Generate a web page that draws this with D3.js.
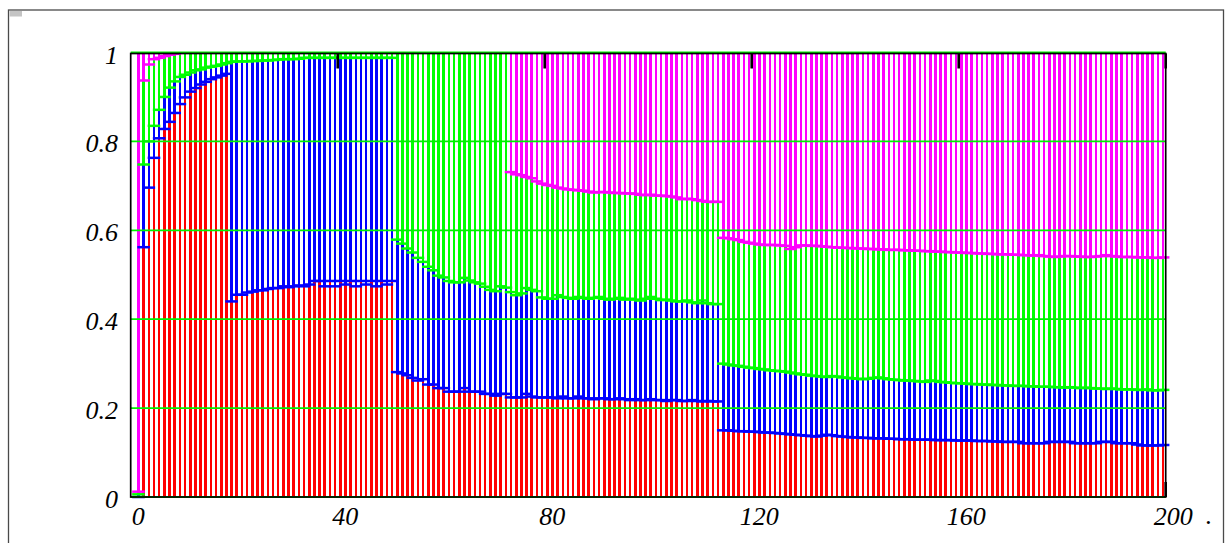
<!DOCTYPE html>
<html>
<head>
<meta charset="utf-8">
<script src="https://cdn.jsdelivr.net/npm/d3@7"></script>
<style>
  html, body { margin: 0; padding: 0; background: #ffffff; }
  svg { display: block; }
  .tick-label { font-family: "Liberation Serif", "Times New Roman", serif; font-style: italic; font-size: 26px; fill: #000; }
</style>
</head>
<body>
<svg id="chart" width="1227" height="543"></svg>
<script>
// Cumulative share levels per step: red band tops, blue band tops, green band tops.
// Magenta fills the rest up to 1.
const redLevel = [
  0, 0.562, 0.696, 0.763, 0.807, 0.828, 0.844, 0.864, 0.884, 0.899,
  0.912, 0.920, 0.928, 0.934, 0.940, 0.944, 0.948, 0.952, 0.440, 0.455,
  0.455, 0.460, 0.462, 0.465, 0.465, 0.468, 0.470, 0.470, 0.474, 0.472,
  0.474, 0.476, 0.474, 0.478, 0.486, 0.486, 0.474, 0.486, 0.474, 0.486,
  0.478, 0.486, 0.474, 0.486, 0.478, 0.486, 0.474, 0.486, 0.478, 0.486,
  0.281, 0.278, 0.274, 0.268, 0.262, 0.265, 0.253, 0.253, 0.245, 0.245,
  0.237, 0.237, 0.237, 0.245, 0.237, 0.237, 0.237, 0.232, 0.232, 0.228,
  0.232, 0.232, 0.224, 0.224, 0.224, 0.232, 0.226, 0.224, 0.224, 0.224,
  0.224, 0.222, 0.226, 0.222, 0.222, 0.226, 0.222, 0.222, 0.220, 0.222,
  0.222, 0.220, 0.220, 0.222, 0.220, 0.218, 0.220, 0.218, 0.218, 0.220,
  0.218, 0.218, 0.216, 0.218, 0.218, 0.216, 0.216, 0.218, 0.216, 0.215,
  0.216, 0.215, 0.215, 0.150, 0.150, 0.149, 0.148, 0.148, 0.147, 0.147,
  0.146, 0.145, 0.145, 0.144, 0.143, 0.142, 0.141, 0.140, 0.139, 0.138,
  0.137, 0.136, 0.138, 0.140, 0.139, 0.137, 0.136, 0.135, 0.134, 0.134,
  0.133, 0.133, 0.132, 0.132, 0.132, 0.131, 0.131, 0.130, 0.130, 0.130,
  0.129, 0.129, 0.129, 0.129, 0.128, 0.128, 0.128, 0.128, 0.127, 0.127,
  0.127, 0.127, 0.126, 0.126, 0.126, 0.125, 0.125, 0.124, 0.124, 0.124,
  0.124, 0.121, 0.121, 0.121, 0.121, 0.121, 0.124, 0.124, 0.124, 0.124,
  0.124, 0.121, 0.121, 0.121, 0.121, 0.121, 0.124, 0.124, 0.124, 0.121,
  0.121, 0.121, 0.121, 0.118, 0.116, 0.116, 0.116, 0.116, 0.117
];

const blueLevel = [
  0.006, 0.748, 0.800, 0.835, 0.871, 0.900, 0.921, 0.935, 0.945, 0.950,
  0.955, 0.960, 0.962, 0.966, 0.968, 0.970, 0.973, 0.976, 0.979, 0.980,
  0.980, 0.980, 0.981, 0.981, 0.982, 0.982, 0.983, 0.984, 0.985, 0.985,
  0.985, 0.986, 0.988, 0.988, 0.988, 0.988, 0.988, 0.988, 0.988, 0.988,
  0.988, 0.988, 0.988, 0.988, 0.988, 0.988, 0.988, 0.988, 0.988, 0.988,
  0.579, 0.570, 0.559, 0.550, 0.538, 0.529, 0.518, 0.510, 0.498, 0.494,
  0.486, 0.483, 0.483, 0.493, 0.487, 0.483, 0.480, 0.473, 0.466, 0.463,
  0.474, 0.471, 0.461, 0.454, 0.458, 0.470, 0.466, 0.463, 0.449, 0.446,
  0.446, 0.454, 0.450, 0.448, 0.446, 0.450, 0.448, 0.446, 0.448, 0.450,
  0.446, 0.444, 0.446, 0.448, 0.444, 0.446, 0.444, 0.442, 0.446, 0.450,
  0.446, 0.443, 0.444, 0.442, 0.440, 0.440, 0.442, 0.438, 0.436, 0.442,
  0.436, 0.434, 0.434, 0.300, 0.298, 0.296, 0.295, 0.293, 0.291, 0.290,
  0.288, 0.287, 0.285, 0.284, 0.283, 0.282, 0.280, 0.278, 0.276, 0.275,
  0.273, 0.272, 0.271, 0.270, 0.272, 0.271, 0.269, 0.268, 0.267, 0.266,
  0.265, 0.266, 0.268, 0.269, 0.267, 0.265, 0.264, 0.263, 0.262, 0.262,
  0.261, 0.260, 0.259, 0.262, 0.261, 0.259, 0.258, 0.257, 0.256, 0.256,
  0.255, 0.254, 0.254, 0.253, 0.253, 0.252, 0.252, 0.251, 0.251, 0.250,
  0.250, 0.250, 0.249, 0.249, 0.248, 0.248, 0.248, 0.247, 0.247, 0.246,
  0.247, 0.246, 0.245, 0.246, 0.245, 0.244, 0.244, 0.243, 0.244, 0.243,
  0.242, 0.242, 0.242, 0.241, 0.241, 0.242, 0.240, 0.240, 0.241
];

const greenLevel = [
  0.012, 0.937, 0.973, 0.985, 0.988, 0.992, 0.995, 0.997, 1, 1,
  1, 1, 1, 1, 1, 1, 1, 1, 1, 1,
  1, 1, 1, 1, 1, 1, 1, 1, 1, 1,
  1, 1, 1, 1, 1, 1, 1, 1, 1, 1,
  1, 1, 1, 1, 1, 1, 1, 1, 1, 1,
  1, 1, 1, 1, 1, 1, 1, 1, 1, 1,
  1, 1, 1, 1, 1, 1, 1, 1, 1, 1,
  1, 1, 0.731, 0.726, 0.724, 0.720, 0.717, 0.710, 0.705, 0.702,
  0.700, 0.696, 0.694, 0.692, 0.691, 0.690, 0.689, 0.687, 0.685, 0.686,
  0.686, 0.685, 0.684, 0.684, 0.683, 0.683, 0.682, 0.680, 0.679, 0.680,
  0.678, 0.678, 0.677, 0.676, 0.674, 0.670, 0.671, 0.670, 0.668, 0.666,
  0.664, 0.664, 0.664, 0.583, 0.582, 0.580, 0.578, 0.574, 0.572, 0.570,
  0.568, 0.567, 0.567, 0.567, 0.566, 0.565, 0.558, 0.562, 0.566, 0.566,
  0.565, 0.565, 0.564, 0.563, 0.562, 0.561, 0.561, 0.560, 0.560, 0.559,
  0.559, 0.558, 0.558, 0.557, 0.557, 0.556, 0.556, 0.556, 0.555, 0.555,
  0.554, 0.554, 0.553, 0.553, 0.552, 0.552, 0.551, 0.551, 0.550, 0.550,
  0.549, 0.549, 0.548, 0.548, 0.547, 0.547, 0.546, 0.546, 0.546, 0.545,
  0.545, 0.544, 0.544, 0.543, 0.544, 0.542, 0.541, 0.540, 0.541, 0.542,
  0.542, 0.541, 0.541, 0.540, 0.540, 0.541, 0.542, 0.544, 0.542, 0.541,
  0.540, 0.540, 0.540, 0.539, 0.539, 0.539, 0.538, 0.538, 0.539
];

const xTickValues = [0, 40, 80, 120, 160, 200];
const xTickLabels = ["0", "40", "80", "120", "160", "200"];
const yTickValues = [0, 0.2, 0.4, 0.6, 0.8, 1];
const yTickLabels = ["0", "0.2", "0.4", "0.6", "0.8", "1"];

const bandColors = ["#ff0000", "#0000ff", "#00ff00", "#ff00ff"];

const svg = d3.select("#chart");
const plot = { left: 130.7, right: 1165.7, top: 52.5, bottom: 497 };

const x = d3.scaleLinear().domain([0, 200]).range([plot.left, plot.right]);
const y = d3.scaleLinear().domain([0, 1]).range([plot.bottom, plot.top]);

// Outer panel border and the little grey handle in its corner
svg.append("rect")
  .attr("x", 8.5).attr("y", 10).attr("width", 1215).attr("height", 600)
  .attr("fill", "none").attr("stroke", "#4a4a4a").attr("stroke-width", 1.3);
svg.append("rect")
  .attr("x", 9.5).attr("y", 11).attr("width", 12.5).attr("height", 5.5)
  .attr("fill", "#c4c4c4");

// Build one record per step with its four stacked bands
const steps = redLevel.map((r, i) => {
  const levels = [0, r, blueLevel[i], greenLevel[i], 1];
  return { pos: i + 1.5, levels };
});

const segs = [];
steps.forEach(s => {
  for (let k = 0; k < 4; k++) {
    const lo = s.levels[k], hi = s.levels[k + 1];
    if (hi - lo > 0.0004) segs.push({ pos: s.pos, lo, hi, k });
  }
});

const g = svg.append("g");

// Vertical band lines
g.selectAll("line.band").data(segs).join("line")
  .attr("class", "band")
  .attr("x1", d => x(d.pos)).attr("x2", d => x(d.pos))
  .attr("y1", d => y(d.lo)).attr("y2", d => y(d.hi))
  .attr("stroke", d => bandColors[d.k])
  .attr("stroke-width", 2.6)
  .attr("shape-rendering", "crispEdges");

// Caps at the lower end of each band (the red band starts on the axis)
const caps = segs.filter(d => d.k > 0);
g.selectAll("line.cap").data(caps).join("line")
  .attr("class", "cap")
  .attr("x1", d => x(d.pos) - 6.3).attr("x2", d => x(d.pos) + 6.3)
  .attr("y1", d => y(d.lo)).attr("y2", d => y(d.lo))
  .attr("stroke", d => bandColors[d.k])
  .attr("stroke-width", 2.5);

// Horizontal grid
g.selectAll("line.grid").data(yTickValues).join("line")
  .attr("class", "grid")
  .attr("x1", plot.left).attr("x2", plot.right)
  .attr("y1", d => y(d)).attr("y2", d => y(d))
  .attr("stroke", "#00f000").attr("stroke-width", 1.8);

// Plot frame
svg.append("rect")
  .attr("x", plot.left).attr("y", y(1) + 1).attr("width", plot.right - plot.left)
  .attr("height", y(0) - y(1) - 1)
  .attr("fill", "none").attr("stroke", "#000").attr("stroke-width", 1.7);

// Tick marks: along the top edge, plus the closing one at the bottom right
const tickLen = 15;
svg.selectAll("line.ttick").data(xTickValues.slice(1)).join("line")
  .attr("class", "ttick")
  .attr("x1", d => x(d)).attr("x2", d => x(d))
  .attr("y1", y(1) + 1).attr("y2", y(1) + 1 + tickLen)
  .attr("stroke", "#000").attr("stroke-width", 2.6);
svg.selectAll("line.btick").data(xTickValues.slice(-1)).join("line")
  .attr("class", "btick")
  .attr("x1", d => x(d)).attr("x2", d => x(d))
  .attr("y1", y(0)).attr("y2", y(0) - tickLen)
  .attr("stroke", "#000").attr("stroke-width", 2.6);

// Axis labels
svg.selectAll("text.xl").data(xTickValues).join("text")
  .attr("class", "tick-label xl")
  .attr("x", d => x(d) + 7.5).attr("y", 525)
  .attr("text-anchor", "middle")
  .text((d, i) => xTickLabels[i]);
svg.append("text").attr("class", "tick-label")
  .attr("x", 1209).attr("y", 524).attr("text-anchor", "middle").text(".");

svg.selectAll("text.yl").data(yTickValues).join("text")
  .attr("class", "tick-label yl")
  .attr("x", 118).attr("y", d => y(d) + 11)
  .attr("text-anchor", "end")
  .text((d, i) => yTickLabels[i]);
</script>
</body>
</html>
